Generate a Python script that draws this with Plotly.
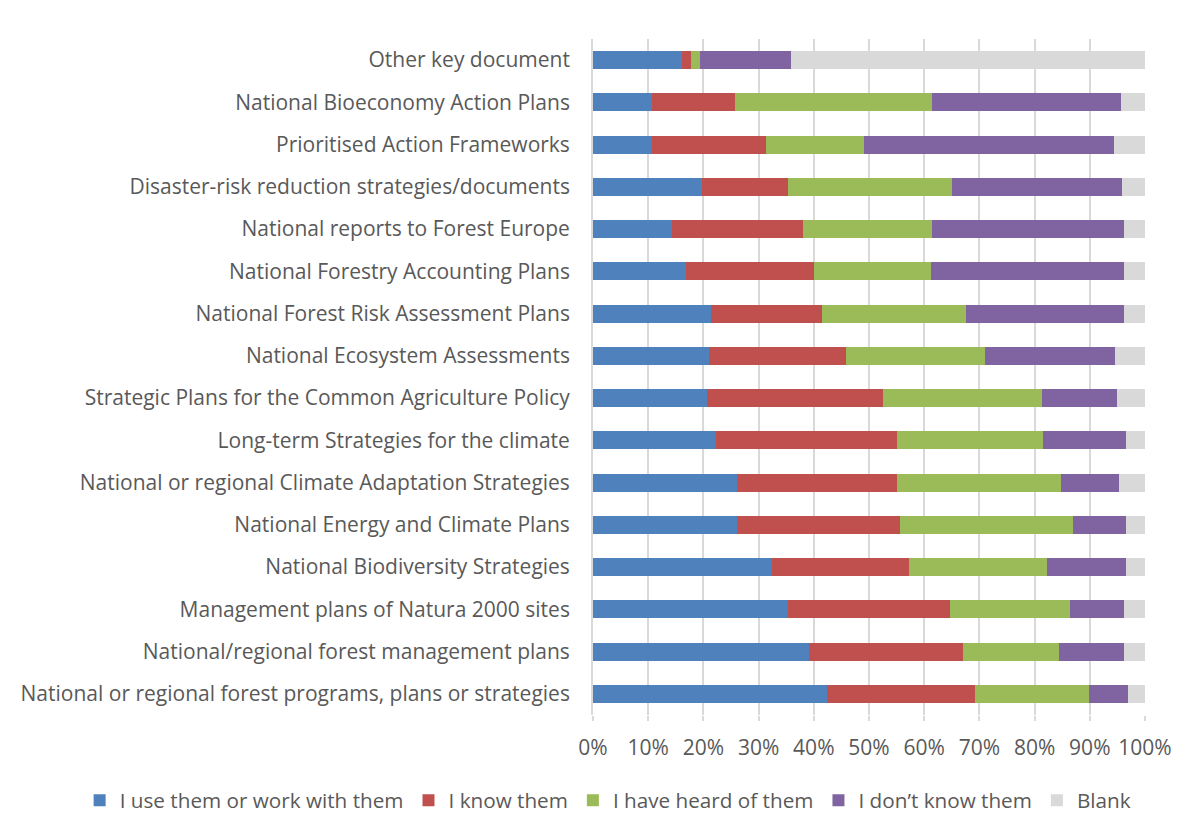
import plotly.graph_objects as go

categories = [
    "National or regional forest programs, plans or strategies",
    "National/regional forest management plans",
    "Management plans of Natura 2000 sites",
    "National Biodiversity Strategies",
    "National Energy and Climate Plans",
    "National or regional Climate Adaptation Strategies",
    "Long-term Strategies for the climate",
    "Strategic Plans for the Common Agriculture Policy",
    "National Ecosystem Assessments",
    "National Forest Risk Assessment Plans",
    "National Forestry Accounting Plans",
    "National reports to Forest Europe",
    "Disaster-risk reduction strategies/documents",
    "Prioritised Action Frameworks",
    "National Bioeconomy Action Plans",
    "Other key document",
]

use_them = [42.3, 39.2, 35.3, 32.5, 26.0, 26.0, 22.2, 20.7, 21.0, 21.3, 16.9, 14.4, 19.7, 10.7, 10.7, 16.2]
know_them = [26.9, 27.8, 29.3, 24.8, 29.7, 29.1, 32.9, 31.9, 24.8, 20.1, 23.2, 23.7, 15.6, 20.7, 15.0, 1.5]
heard_of = [20.7, 17.5, 21.8, 25.0, 31.3, 29.7, 26.5, 28.7, 25.3, 26.2, 21.1, 23.4, 29.8, 17.7, 35.8, 1.7]
dont_know = [7.0, 11.7, 9.8, 14.2, 9.5, 10.4, 14.9, 13.7, 23.5, 28.6, 35.0, 34.7, 30.8, 45.3, 34.1, 16.5]
blank = [3.1, 3.8, 3.8, 3.5, 3.5, 4.8, 3.5, 5.0, 5.4, 3.8, 3.8, 3.8, 4.1, 5.6, 4.4, 64.1]

series_names = ["I use them or work with them", "I know them", "I have heard of them",
                "I don\u2019t know them", "Blank"]
series_values = [use_them, know_them, heard_of, dont_know, blank]
colors = ["#4F81BD", "#C0504D", "#9BBB59", "#8064A2", "#D9D9D9"]

x_ticks = [0, 10, 20, 30, 40, 50, 60, 70, 80, 90, 100]
x_tick_labels = [f"{t}%" for t in x_ticks]

FONT = "'Open Sans', Lato, sans-serif"
TXT = "#595959"

fig = go.Figure()
for name, vals, col in zip(series_names, series_values, colors):
    fig.add_trace(go.Bar(
        y=categories, x=vals, name=name, orientation="h",
        marker=dict(color=col, line=dict(width=0)),
    ))

fig.update_layout(
    barmode="stack",
    bargap=0.57,
    width=1190, height=832,
    margin=dict(l=585, r=53, t=31, b=125, autoexpand=False),
    paper_bgcolor="white", plot_bgcolor="white",
    font=dict(family=FONT, size=21, color=TXT),
    showlegend=True,
    legend=dict(
        orientation="h", traceorder="normal",
        x=-0.93, y=-0.126, xanchor="left", yanchor="middle",
        font=dict(family=FONT, size=20.7, color=TXT),
        itemwidth=30, tracegroupgap=0,
    ),
    xaxis=dict(
        range=[0, 100], tickvals=x_ticks, ticktext=x_tick_labels,
        showgrid=True, gridcolor="#D9D9D9", gridwidth=1.8,
        zeroline=False, showline=False,
        ticks="outside", ticklen=5, tickcolor="#D9D9D9", tickwidth=1.8,
        ticklabelstandoff=9,
        tickfont=dict(family=FONT, size=21, color=TXT),
        fixedrange=True,
    ),
    yaxis=dict(
        type="category", categoryorder="array", categoryarray=categories,
        showgrid=False, zeroline=False,
        showline=True, linecolor="#D9D9D9", linewidth=1.8,
        ticks="", ticklabelstandoff=17,
        tickfont=dict(family=FONT, size=21, color=TXT),
        fixedrange=True,
    ),
)

fig.write_html("out.html")
